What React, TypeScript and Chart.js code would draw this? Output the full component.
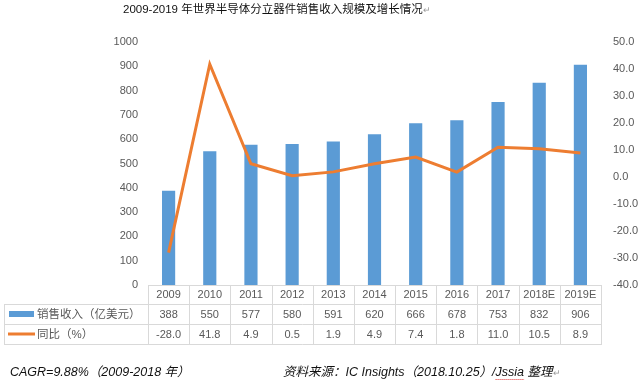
import React, { useEffect, useRef } from 'react';
import { Chart, registerables } from 'chart.js';
Chart.register(...registerables);

const categories = ['2009', '2010', '2011', '2012', '2013', '2014', '2015', '2016', '2017', '2018E', '2019E'];
const salesValues = [388, 550, 577, 580, 591, 620, 666, 678, 753, 832, 906];
const yoyValues = [-28.0, 41.8, 4.9, 0.5, 1.9, 4.9, 7.4, 1.8, 11.0, 10.5, 8.9];
const seriesNames = ['销售收入（亿美元）', '同比（%）'];
const titleText = '2009-2019 年世界半导体分立器件销售收入规模及增长情况';
const footLeft = 'CAGR=9.88%（2009-2018 年）';
const footRightA = '资料来源：IC Insights（2018.10.25）/';
const footRightB = 'Jssia';
const footRightC = ' 整理';

const BLUE = '#5B9BD5';
const ORANGE = '#ED7D31';
const GRAY = '#595959';
const GRID = '#D9D9D9';
const FONT = "'Liberation Sans','Noto Sans CJK SC',sans-serif";

const tablePlugin = {
  id: 'tablePlugin',
  afterDraw(chart: any) {
    const ctx = chart.ctx as CanvasRenderingContext2D;
    const area = chart.chartArea;
    const n = categories.length;
    const colW = (area.right - area.left) / n;
    const r1 = Math.round(area.bottom);
    const r2 = r1 + 19;
    const r3 = r1 + 39;
    const r4 = r1 + 59;
    const tableLeft = 4.5;
    ctx.save();
    ctx.strokeStyle = GRID;
    ctx.lineWidth = 1;
    ctx.beginPath();
    ctx.moveTo(area.left, r1 + 0.5);
    ctx.lineTo(area.right, r1 + 0.5);
    [r2, r3, r4].forEach((y) => {
      ctx.moveTo(tableLeft, y + 0.5);
      ctx.lineTo(area.right, y + 0.5);
    });
    for (let i = 0; i <= n; i++) {
      const x = Math.round(area.left + i * colW) + 0.5;
      ctx.moveTo(x, r1);
      ctx.lineTo(x, r4 + 1);
    }
    ctx.moveTo(tableLeft, r2);
    ctx.lineTo(tableLeft, r4 + 1);
    ctx.stroke();

    ctx.fillStyle = GRAY;
    ctx.textAlign = 'center';
    ctx.textBaseline = 'middle';
    ctx.font = `11px ${FONT}`;
    for (let i = 0; i < n; i++) {
      const cx = area.left + (i + 0.5) * colW;
      ctx.fillText(categories[i], cx, (r1 + r2) / 2 + 0.5);
      ctx.fillText(String(salesValues[i]), cx, (r2 + r3) / 2 + 0.5);
      ctx.fillText(yoyValues[i].toFixed(1), cx, (r3 + r4) / 2 + 0.5);
    }

    ctx.fillStyle = BLUE;
    ctx.fillRect(9, r2 + 7, 25, 6);
    ctx.strokeStyle = ORANGE;
    ctx.lineWidth = 3;
    ctx.beginPath();
    ctx.moveTo(8, (r3 + r4) / 2);
    ctx.lineTo(35, (r3 + r4) / 2);
    ctx.stroke();
    ctx.fillStyle = GRAY;
    ctx.textAlign = 'left';
    ctx.font = `11.5px ${FONT}`;
    ctx.fillText(seriesNames[0], 37, (r2 + r3) / 2 + 0.5);
    ctx.fillText(seriesNames[1], 37, (r3 + r4) / 2 + 0.5);

    ctx.fillStyle = '#111';
    ctx.font = `11.5px ${FONT}`;
    ctx.textBaseline = 'middle';
    ctx.fillText(titleText, 123, 10);
    const tw = ctx.measureText(titleText).width;
    ctx.fillStyle = '#999';
    ctx.font = `9px ${FONT}`;
    ctx.fillText('↵', 123 + tw, 11);

    ctx.fillStyle = '#111';
    ctx.font = `italic 12.5px ${FONT}`;
    ctx.fillText(footLeft, 10, 373);
    let x = 283;
    ctx.fillText(footRightA, x, 373);
    x += ctx.measureText(footRightA).width;
    ctx.fillText(footRightB, x, 373);
    const wb = ctx.measureText(footRightB).width;
    ctx.strokeStyle = '#E03030';
    ctx.lineWidth = 1;
    ctx.setLineDash([1, 1]);
    ctx.beginPath();
    ctx.moveTo(x, 379.5);
    ctx.lineTo(x + wb, 379.5);
    ctx.stroke();
    ctx.setLineDash([]);
    x += wb;
    ctx.fillText(footRightC, x, 373);
    x += ctx.measureText(footRightC).width;
    ctx.fillStyle = '#999';
    ctx.font = `9px ${FONT}`;
    ctx.fillText('↵', x, 374);
    ctx.restore();
  },
};

export default function App() {
  const ref = useRef<HTMLCanvasElement>(null);
  useEffect(() => {
    if (!ref.current) return;
    const chart = new Chart(ref.current, {
      type: 'bar',
      data: {
        labels: categories,
        datasets: [
          {
            type: 'line',
            label: seriesNames[1],
            data: yoyValues,
            yAxisID: 'y1',
            borderColor: ORANGE,
            backgroundColor: ORANGE,
            borderWidth: 3,
            pointRadius: 0,
            tension: 0,
            order: 0,
          } as any,
          {
            type: 'bar',
            label: seriesNames[0],
            data: salesValues,
            yAxisID: 'y',
            backgroundColor: BLUE,
            barPercentage: 0.32,
            categoryPercentage: 1,
            order: 1,
          } as any,
        ],
      },
      options: {
        responsive: false,
        animation: false,
        layout: { padding: { top: 42, bottom: 97, left: 0, right: 0 } },
        plugins: { legend: { display: false }, tooltip: { enabled: false }, title: { display: false } },
        scales: {
          x: { display: false, offset: true, grid: { display: false } },
          y: {
            position: 'left',
            min: 0,
            max: 1000,
            ticks: { stepSize: 100, color: GRAY, font: { size: 11, family: FONT }, padding: 10, callback: (v: any) => String(v) },
            grid: { display: false, drawTicks: false },
            border: { display: false },
            afterFit: (s: any) => { s.width = 148; },
          },
          y1: {
            position: 'right',
            min: -40,
            max: 50,
            ticks: { stepSize: 10, color: GRAY, font: { size: 11, family: FONT }, padding: 12, callback: (v: any) => Number(v).toFixed(1) },
            grid: { display: false, drawTicks: false },
            border: { display: false },
            afterFit: (s: any) => { s.width = 40; },
          },
        },
      } as any,
      plugins: [tablePlugin],
    });
    return () => chart.destroy();
  }, []);
  return (
    <div style={{ position: 'absolute', left: 0, top: 0, width: 641, height: 382, background: '#fff' }}>
      <canvas ref={ref} width={641} height={382} />
    </div>
  );
}
